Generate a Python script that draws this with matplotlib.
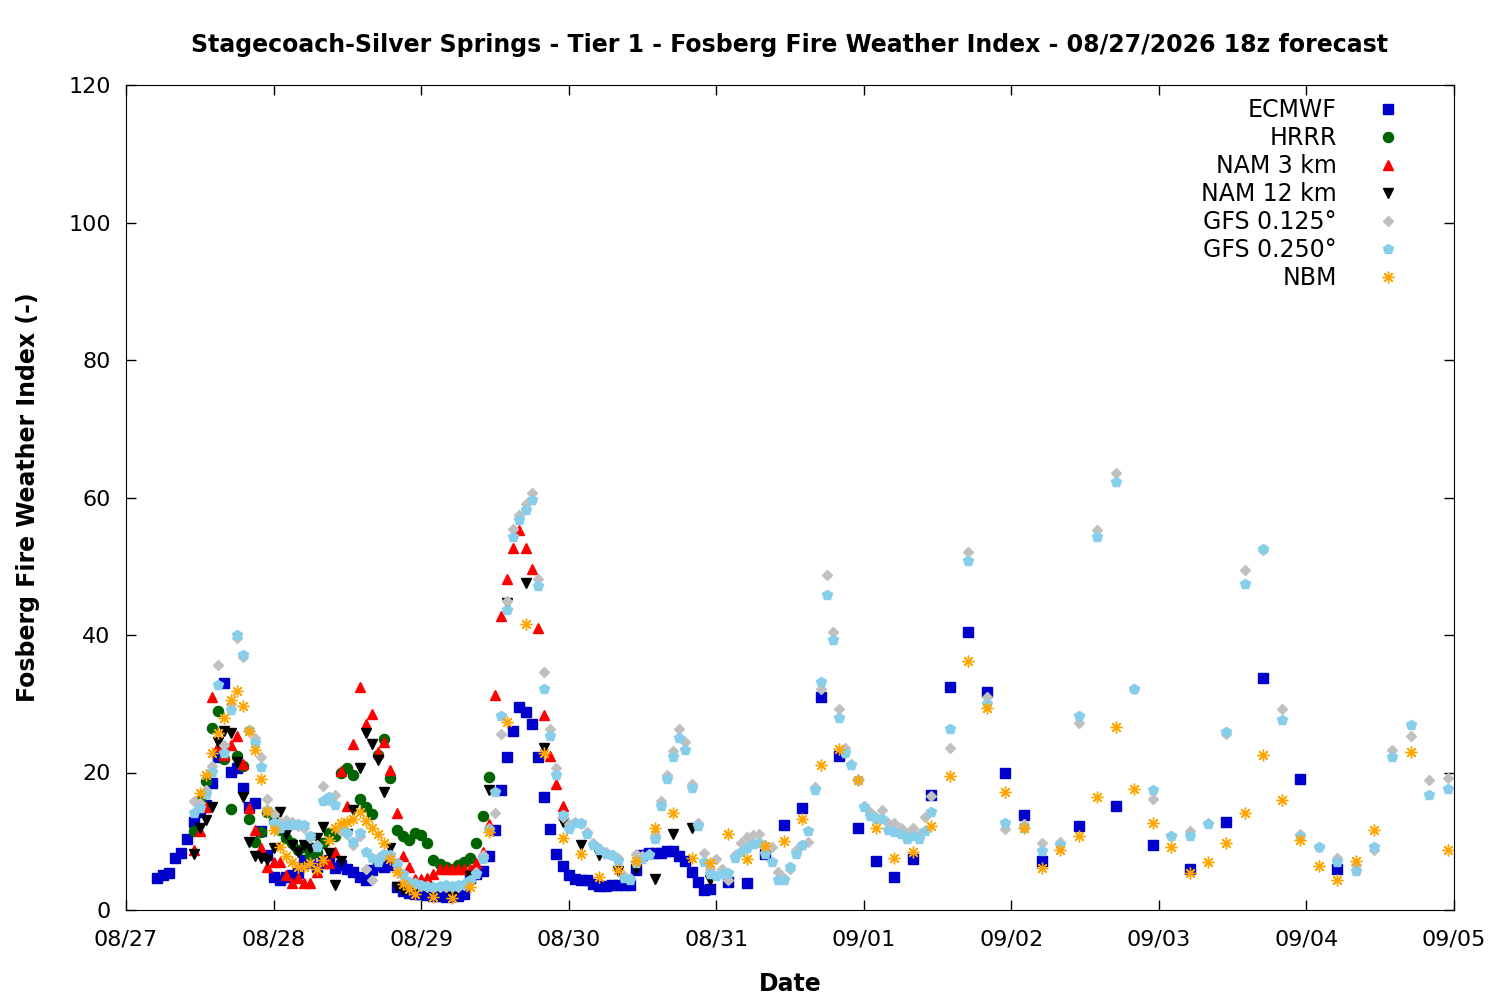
import numpy as np
import matplotlib
matplotlib.use("Agg")
import matplotlib.pyplot as plt

# x values are hours after 08/27 00:00 (local time)
day_labels = ["08/27", "08/28", "08/29", "08/30", "08/31",
              "09/01", "09/02", "09/03", "09/04", "09/05"]

# ECMWF: hourly, then 3-hourly, then 6-hourly
ecmwf_hours = np.concatenate([np.arange(5, 96), np.arange(98, 150, 3), np.arange(155, 198, 6)])
ecmwf = [4.6, 5.1, 5.4, 7.6, 8.3, 10.3, 12.8, 14.2, 15.3, 18.5,
         22.3, 33.0, 20.1, 20.6, 17.7, 15.0, 15.6, 11.5, 8.0, 4.8,
         4.4, 4.8, 5.1, 5.4, 7.3, 6.8, 6.3, 6.8, 7.3, 6.1,
         6.5, 5.9, 5.6, 4.8, 4.4, 5.8, 6.5, 6.3, 6.5, 3.4,
         2.8, 2.5, 2.4, 2.3, 2.2, 2.0, 2.0, 1.9, 2.0, 2.1,
         2.4, 4.6, 5.3, 5.7, 7.9, 11.6, 17.5, 22.3, 26.0, 29.6,
         28.8, 27.1, 22.2, 16.5, 11.8, 8.1, 6.4, 5.1, 4.5, 4.4,
         4.3, 3.8, 3.5, 3.5, 3.6, 3.6, 3.6, 3.6, 5.8, 8.0,
         8.3, 8.3, 8.3, 8.6, 8.6, 7.8, 7.2, 5.6, 4.1, 2.9,
         3.0,
         4.1, 4.0, 8.2, 12.4, 14.8, 31.0, 22.4, 12.0, 7.1, 4.8,
         7.4, 16.7, 32.4, 40.4, 31.7, 20.0, 13.8, 7.1,
         12.2, 15.1, 9.4, 6.0, 12.8, 33.7, 19.0, 5.9]

hrrr_hours = np.arange(11, 60)
hrrr = [11.5, 16.0, 18.7, 26.5, 29.0, 21.9, 14.7, 22.4, 21.0, 13.2,
        9.9, 11.4, 14.3, 13.0, 11.6, 10.5, 9.7, 8.7, 9.2, 8.0,
        8.5, 9.8, 11.2, 10.7, 19.9, 20.6, 19.6, 16.2, 15.0, 14.0,
        22.5, 24.9, 19.2, 11.7, 10.7, 10.2, 11.2, 10.9, 9.8, 7.3,
        6.7, 6.3, 6.0, 6.5, 7.0, 7.5, 9.8, 13.7, 19.3]

nam3_hours = np.arange(11, 72)
nam3 = [8.7, 11.5, 15.0, 31.0, 23.8, 22.5, 24.0, 25.3, 21.3, 14.8,
        11.6, 9.0, 6.2, 7.0, 7.0, 5.1, 3.9, 4.6, 3.9, 3.9,
        5.6, 7.3, 6.8, 8.5, 20.2, 15.1, 24.1, 32.5, 27.0, 28.5,
        23.0, 24.5, 20.4, 14.1, 7.8, 6.3, 4.5, 4.5, 4.6, 5.3,
        5.9, 5.9, 6.0, 5.9, 5.9, 6.0, 6.8, 8.4, 12.5, 31.3,
        42.7, 48.1, 52.7, 55.3, 52.7, 49.6, 41.0, 28.4, 22.4, 18.3,
        15.1]

nam12_hours = np.concatenate([np.arange(11, 48), np.arange(50, 96, 3)])
nam12 = [8.2, 12.0, 13.1, 15.0, 24.5, 26.0, 25.8, 21.6, 16.5, 9.9,
         7.8, 7.5, 7.3, 9.0, 14.3, 11.0, 9.5, 8.5, 9.5, 9.0,
         10.5, 12.1, 8.3, 3.7, 7.1, 11.0, 14.6, 20.6, 25.8, 24.2,
         21.8, 17.1, 9.0, 3.4, 2.9, 3.0, 3.0,
         2.5, 1.9, 5.0, 17.5, 44.6, 47.5, 23.5, 12.8, 9.5, 8.0,
         5.7, 5.9, 4.5, 11.1, 11.9, 4.4]

gfs_hours = np.concatenate([np.arange(11, 132), np.arange(134, 216, 3)])
gfs125 = [15.8, 15.5, 17.5, 21.0, 35.7, 24.0, 30.0, 39.5, 36.8, 26.0,
          25.0, 22.3, 16.1, 14.0, 12.8, 13.1, 12.8, 12.2, 12.0, 10.5,
          9.5, 18.1, 16.0, 16.8, 11.5, 11.0, 9.5, 10.8, 5.9, 4.4,
          7.5, 8.0, 7.8, 6.5, 5.0, 4.0, 3.8, 3.5, 3.3, 3.2,
          3.3, 3.4, 3.3, 3.4, 3.6, 4.2, 5.5, 8.0, 12.0, 14.1,
          25.6, 45.0, 55.4, 57.5, 59.0, 60.7, 48.1, 34.6, 26.4, 20.6,
          13.5, 12.5, 12.8, 12.5, 11.4, 9.8, 9.0, 8.5, 8.0, 7.6,
          5.0, 4.6, 8.2, 7.8, 8.1, 10.9, 15.8, 19.6, 23.2, 26.4,
          24.5, 18.4, 12.6, 8.3, 6.0, 7.4, 6.0, 4.4, 8.0, 9.7,
          10.6, 10.9, 11.0, 9.5, 9.2, 5.6, 4.6, 6.0, 8.8, 9.5,
          9.9, 17.9, 32.2, 48.7, 40.5, 29.2, 23.5, 21.3, 18.9, 15.2,
          14.2, 13.6, 14.6, 12.7, 12.6, 12.0, 11.2, 12.0, 11.0, 13.6,
          16.6,
          23.5, 52.1, 31.0, 11.8, 12.5, 9.7, 9.9, 27.2, 55.3, 63.6,
          32.2, 16.2, 10.7, 11.5, 12.7, 25.6, 49.5, 52.3, 29.3, 11.0,
          9.1, 7.5, 6.5, 8.8, 23.3, 25.3, 18.9, 19.2]
gfs250 = [14.1, 14.8, 16.9, 20.1, 32.8, 22.8, 29.1, 40.0, 37.1, 26.2,
          24.3, 20.8, 14.5, 12.6, 12.0, 12.4, 12.4, 12.5, 12.4, 10.7,
          9.2, 15.8, 16.5, 15.3, 12.0, 11.2, 9.9, 11.2, 8.5, 7.5,
          7.0, 8.2, 8.0, 6.8, 5.3, 4.1, 3.9, 3.6, 3.5, 3.4,
          3.5, 3.6, 3.5, 3.6, 3.8, 4.4, 5.3, 7.4, 11.6, 17.2,
          28.2, 43.7, 54.2, 56.7, 58.2, 59.7, 47.1, 32.2, 25.3, 19.6,
          13.8, 11.8, 12.6, 12.7, 11.1, 9.5, 8.8, 8.2, 8.0, 7.2,
          4.6, 4.4, 6.8, 7.4, 8.0, 10.4, 15.1, 19.1, 22.2, 25.0,
          23.3, 17.8, 12.2, 7.0, 5.2, 5.0, 5.2, 5.4, 7.5, 8.5,
          9.0, 9.6, 9.8, 8.2, 7.0, 4.4, 4.4, 6.3, 8.2, 9.5,
          11.5, 17.4, 33.1, 45.8, 39.3, 27.9, 22.9, 21.1, 18.9, 15.0,
          13.7, 13.3, 13.3, 11.7, 11.4, 11.1, 10.3, 10.7, 10.3, 11.5,
          14.2,
          26.4, 50.8, 30.0, 12.7, 12.0, 8.6, 9.5, 28.2, 54.2, 62.2,
          32.2, 17.5, 10.8, 10.8, 12.5, 25.9, 47.4, 52.5, 27.7, 10.7,
          9.1, 7.0, 5.7, 9.2, 22.2, 26.9, 16.8, 17.6]

nbm_hours = np.concatenate([np.arange(12, 48), np.arange(50, 204, 3), [209, 215]])
nbm = [17.0, 19.6, 22.8, 25.7, 27.9, 30.5, 31.9, 29.7, 26.1, 23.3,
       19.0, 14.4, 11.7, 9.2, 7.9, 7.0, 6.3, 6.2, 6.8, 5.9,
       7.3, 10.2, 12.0, 12.6, 12.8, 13.3, 14.2, 13.0, 11.9, 11.1,
       9.8, 7.4, 5.5, 3.8, 3.1, 2.4,
       1.9, 1.8, 3.3, 11.3, 27.3, 41.6, 22.8, 10.5, 8.1, 4.8,
       5.8, 7.1, 11.9, 14.1, 7.5, 6.9, 11.1, 7.4, 9.3, 10.0,
       13.3, 21.1, 23.4, 18.9, 11.9, 7.5, 8.5, 12.2, 19.5, 36.2,
       29.4, 17.1, 11.9, 6.1, 8.7, 10.7, 16.4, 26.6, 17.6, 12.6,
       9.2, 5.4, 7.0, 9.7, 14.1, 22.6, 16.0, 10.2, 6.4, 4.4,
       7.1, 11.6,
       23.0, 8.7]

fig = plt.figure(figsize=(15, 10), dpi=100)
ax = fig.add_axes([0.084, 0.09, 0.8853, 0.825])

ax.plot(ecmwf_hours, ecmwf, ls="none", marker="s", ms=6.5, color="#0000cc", label="ECMWF")
ax.plot(hrrr_hours, hrrr, ls="none", marker="o", ms=7.3, color="#006400", label="HRRR")
ax.plot(nam3_hours, nam3, ls="none", marker="^", ms=7.6, color="#ff0000", label="NAM 3 km")
ax.plot(nam12_hours, nam12, ls="none", marker="v", ms=7.6, color="black", label="NAM 12 km")
ax.plot(gfs_hours, gfs125, ls="none", marker="D", ms=5.3, color="#c0c0c0", label="GFS 0.125°")
ax.plot(gfs_hours, gfs250, ls="none", marker="p", ms=7.9, color="#87ceeb", label="GFS 0.250°")
ax.plot(nbm_hours, nbm, ls="none", marker=(8, 2, 0), ms=8.5, mew=1.0, color="#ffa500", label="NBM")

ax.set_xlim(0, 216)
ax.set_ylim(0, 120)
ax.set_xticks(np.arange(0, 217, 24))
ax.set_xticklabels(day_labels)
ax.set_yticks(np.arange(0, 121, 20))
ax.tick_params(direction="in", length=7, width=1, top=True, right=True, labelsize=16, pad=11)
ax.tick_params(axis="x", pad=14)

ax.set_xlabel("Date", fontsize=17, fontweight="bold", labelpad=16)
ax.set_ylabel("Fosberg Fire Weather Index (-)", fontsize=17, fontweight="bold", labelpad=20)
ax.set_title("Stagecoach-Silver Springs - Tier 1 - Fosberg Fire Weather Index - 08/27/2026 18z forecast",
             fontsize=17, fontweight="bold", pad=24)

ax.legend(loc="upper right", bbox_to_anchor=(0.9661, 0.9952), borderaxespad=0,
          markerfirst=False, frameon=False, fontsize=17,
          handlelength=1.0, handletextpad=1.66, labelspacing=0.165, numpoints=1)

fig.savefig("out.png", dpi=100)
